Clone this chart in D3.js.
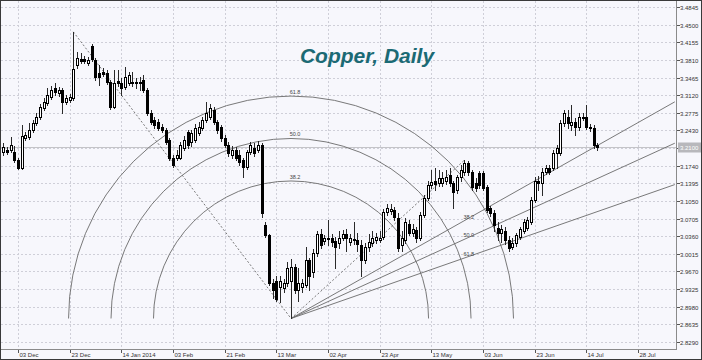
<!DOCTYPE html>
<html>
<head>
<meta charset="utf-8">
<script src="https://d3js.org/d3.v7.min.js"></script>
<style>
  body { margin: 0; background: #fff; }
  svg { display: block; }
  .grid line { stroke: #cfcfd8; stroke-dasharray: 2,2; shape-rendering: crispEdges; }
  .tick-label { font-family: "Liberation Sans Narrow", "Liberation Sans", Arial, sans-serif; font-size: 6px; fill: #333; }
  .fib { fill: none; stroke: #6a6a6a; stroke-width: 0.9; }
  .fib-dash { fill: none; stroke: #6a6a6a; stroke-width: 0.9; stroke-dasharray: 2,2; }
  .fib-label { font-family: "Liberation Sans", Arial, sans-serif; font-size: 5.5px; fill: #444; }
</style>
</head>
<body>
<script>
// copper daily candles, one entry per trading day
const opens = [3.200,3.204,3.204,3.200,3.185,3.169,3.228,3.230,3.243,3.257,3.269,3.287,3.296,3.308,3.326,3.316,3.322,3.298,3.302,3.306,
  3.371,3.383,3.383,3.375,3.408,3.381,3.355,3.357,3.355,3.337,3.288,3.339,3.336,3.328,3.336,3.337,3.336,3.337,3.341,3.322,
  3.277,3.263,3.259,3.249,3.243,3.224,3.189,3.189,3.190,3.208,3.239,3.220,3.224,3.238,3.247,3.263,3.269,3.283,3.259,3.249,
  3.228,3.214,3.194,3.204,3.194,3.185,3.171,3.200,3.208,3.204,3.214,3.057,3.038,2.945,2.949,2.936,2.934,2.944,2.949,2.975,
  2.930,2.936,2.940,2.989,2.965,3.004,3.041,3.026,3.030,3.032,3.026,3.022,3.032,3.041,3.024,3.030,3.028,3.018,2.989,3.014,
  3.022,3.028,3.028,3.034,3.083,3.085,3.087,3.071,3.018,3.028,3.059,3.043,3.049,3.032,3.077,3.110,3.136,3.145,3.141,3.141,
  3.145,3.155,3.140,3.126,3.151,3.161,3.179,3.161,3.141,3.159,3.159,3.132,3.091,3.081,3.053,3.043,3.047,3.028,3.014,3.022,
  3.034,3.047,3.053,3.063,3.106,3.145,3.141,3.161,3.169,3.169,3.198,3.198,3.257,3.269,3.253,3.259,3.249,3.267,3.269,3.249,
  3.247,3.214];
const highs = [3.218,3.210,3.230,3.212,3.189,3.253,3.239,3.257,3.263,3.277,3.294,3.306,3.326,3.330,3.336,3.328,3.326,3.312,3.314,3.436,
  3.396,3.394,3.388,3.386,3.412,3.384,3.371,3.365,3.361,3.341,3.361,3.361,3.345,3.367,3.357,3.357,3.345,3.347,3.351,3.326,
  3.283,3.269,3.265,3.255,3.247,3.228,3.194,3.204,3.220,3.232,3.243,3.243,3.255,3.259,3.269,3.298,3.294,3.288,3.263,3.253,
  3.234,3.220,3.212,3.210,3.204,3.190,3.204,3.220,3.218,3.222,3.218,3.063,3.041,2.953,2.959,2.959,2.953,2.985,2.992,2.981,
  2.973,2.953,3.014,2.994,3.010,3.047,3.051,3.038,3.067,3.040,3.034,3.047,3.049,3.051,3.041,3.063,3.043,3.028,3.022,3.041,
  3.047,3.043,3.047,3.089,3.100,3.100,3.094,3.081,3.047,3.071,3.067,3.059,3.055,3.083,3.116,3.145,3.165,3.169,3.165,3.161,
  3.165,3.169,3.145,3.155,3.175,3.185,3.183,3.165,3.149,3.163,3.163,3.136,3.096,3.087,3.063,3.057,3.055,3.036,3.032,3.043,
  3.055,3.069,3.073,3.112,3.151,3.153,3.169,3.175,3.175,3.204,3.214,3.263,3.283,3.283,3.292,3.267,3.277,3.277,3.292,3.255,
  3.253,3.218];
const lows = [3.194,3.196,3.200,3.181,3.167,3.167,3.224,3.226,3.239,3.253,3.265,3.283,3.292,3.304,3.312,3.310,3.277,3.294,3.298,3.302,
  3.365,3.375,3.375,3.371,3.379,3.341,3.332,3.349,3.334,3.285,3.287,3.330,3.312,3.324,3.332,3.330,3.326,3.322,3.318,3.273,
  3.255,3.247,3.243,3.239,3.216,3.185,3.171,3.185,3.187,3.204,3.208,3.212,3.220,3.234,3.243,3.259,3.265,3.255,3.238,3.222,
  3.210,3.192,3.189,3.185,3.175,3.151,3.167,3.196,3.192,3.200,3.073,3.034,2.940,2.916,2.910,2.908,2.926,2.938,2.875,2.924,
  2.910,2.926,2.936,2.930,2.957,2.998,3.012,3.020,3.018,3.016,2.973,3.012,3.028,3.008,3.018,3.020,3.008,2.959,2.983,3.008,
  3.016,3.022,3.024,3.030,3.077,3.079,3.067,3.008,3.008,3.022,3.038,3.036,3.024,3.028,3.073,3.106,3.130,3.126,3.134,3.134,
  3.138,3.134,3.092,3.120,3.145,3.155,3.155,3.126,3.124,3.130,3.126,3.083,3.075,3.047,3.028,3.024,3.020,3.008,3.010,3.016,
  3.030,3.043,3.049,3.059,3.102,3.126,3.116,3.157,3.157,3.165,3.169,3.194,3.251,3.247,3.243,3.234,3.243,3.263,3.245,3.241,
  3.208,3.204];
const closes = [3.210,3.200,3.214,3.185,3.169,3.232,3.234,3.243,3.257,3.269,3.288,3.298,3.312,3.322,3.318,3.322,3.298,3.306,3.308,3.363,
  3.384,3.379,3.379,3.381,3.383,3.347,3.347,3.353,3.337,3.288,3.336,3.336,3.326,3.347,3.351,3.336,3.337,3.336,3.322,3.277,
  3.259,3.253,3.247,3.243,3.220,3.189,3.175,3.194,3.214,3.224,3.214,3.238,3.247,3.249,3.263,3.277,3.287,3.259,3.243,3.228,
  3.214,3.198,3.204,3.190,3.181,3.171,3.200,3.214,3.198,3.214,3.081,3.038,2.945,2.930,2.914,2.949,2.945,2.973,2.975,2.930,
  2.945,2.944,2.989,2.959,3.004,3.041,3.018,3.032,3.032,3.024,3.014,3.032,3.041,3.032,3.032,3.028,3.020,2.989,3.014,3.024,
  3.032,3.034,3.032,3.083,3.091,3.089,3.073,3.012,3.032,3.063,3.043,3.051,3.032,3.077,3.110,3.136,3.143,3.138,3.149,3.149,
  3.151,3.140,3.122,3.151,3.165,3.179,3.161,3.132,3.130,3.136,3.130,3.087,3.081,3.057,3.043,3.051,3.028,3.012,3.022,3.038,
  3.051,3.063,3.067,3.106,3.145,3.140,3.161,3.169,3.161,3.198,3.208,3.257,3.277,3.257,3.259,3.249,3.269,3.269,3.249,3.247,
  3.214,3.210];

const priceTicks = [2.8290,2.8635,2.8980,2.9325,2.9670,3.0015,3.0360,3.0705,3.1050,3.1395,
  3.1740,3.2085,3.2430,3.2775,3.3120,3.3465,3.3810,3.4155,3.4500,3.4845];
const dateTickBars = [4,18,32,46,60,74,88,102,116,130,144,158,172];
const dateTickLabels = ["03 Dec","23 Dec","14 Jan 2014","03 Feb","21 Feb","13 Mar","02 Apr",
  "23 Apr","13 May","03 Jun","23 Jun","14 Jul","28 Jul"];

// fibonacci tools: arcs from the Dec high to the Mar low, fan from the Mar low to the May high
const fibHigh = {bar: 19, price: 3.436};
const fibLow = {bar: 78, price: 2.875};
const fanEnd = {bar: 125, price: 3.185};
const fibLevels = [38.2, 50.0, 61.8];

const W = 702, H = 360;
const pLeft = 1, pRight = 676, pTop = 1, pBottom = 349;

const svg = d3.select("body").append("svg")
  .attr("width", W).attr("height", H);

svg.append("rect").attr("x", 0.5).attr("y", 0.5).attr("width", W - 1).attr("height", H - 1)
  .attr("fill", "#f7f7fc").attr("stroke", "#3a3a3a");

const x = d3.scaleLinear().domain([0, 182]).range([3.2, 674.8]);
const y = d3.scaleLinear().domain([2.8290, 3.4845]).range([342, 7]);

const px = v => Math.round(v) + 0.5;

// grid
const grid = svg.append("g").attr("class", "grid");
grid.selectAll(".h").data(priceTicks).join("line")
  .attr("x1", pLeft).attr("x2", pRight)
  .attr("y1", d => px(y(d))).attr("y2", d => px(y(d)));
grid.selectAll(".v").data(dateTickBars).join("line")
  .attr("x1", d => px(x(d))).attr("x2", d => px(x(d)))
  .attr("y1", pTop).attr("y2", pBottom);

// clip for drawing objects
svg.append("clipPath").attr("id", "plot")
  .append("rect").attr("x", pLeft).attr("y", pTop).attr("width", pRight - pLeft).attr("height", pBottom - pTop);

const last = closes[closes.length - 1];

// bid line
svg.append("line")
  .attr("x1", pLeft).attr("x2", pRight)
  .attr("y1", px(y(last))).attr("y2", px(y(last)))
  .attr("stroke", "#c4c4c8").attr("shape-rendering", "crispEdges");

const fib = svg.append("g").attr("clip-path", "url(#plot)");

const ax = x(fibLow.bar), ay = y(fibLow.price);
const dist = Math.hypot(x(fibHigh.bar) - ax, y(fibHigh.price) - ay);

fibLevels.forEach(l => {
  const r = dist * l / 100;
  fib.append("path").attr("class", "fib")
    .attr("d", `M${ax - r},${ay} A${r},${r} 0 0 1 ${ax + r},${ay}`);
  fib.append("text").attr("class", "fib-label")
    .attr("x", ax + 4).attr("y", ay - r - 2)
    .attr("text-anchor", "middle")
    .text(l.toFixed(1));
});

// dashed trend lines
fib.append("line").attr("class", "fib-dash")
  .attr("x1", x(fibHigh.bar)).attr("y1", y(fibHigh.price))
  .attr("x2", ax).attr("y2", ay);
fib.append("line").attr("class", "fib-dash")
  .attr("x1", ax).attr("y1", ay)
  .attr("x2", x(fanEnd.bar)).attr("y2", y(fanEnd.price));

// fan lines
fibLevels.forEach(l => {
  const p = fanEnd.price - (fanEnd.price - fibLow.price) * l / 100;
  const slope = (p - fibLow.price) / (fanEnd.bar - fibLow.bar);
  const endBar = 182;
  fib.append("line").attr("class", "fib")
    .attr("x1", ax).attr("y1", ay)
    .attr("x2", x(endBar)).attr("y2", y(fibLow.price + slope * (endBar - fibLow.bar)));
  fib.append("text").attr("class", "fib-label")
    .attr("x", x(fanEnd.bar) - 1).attr("y", y(p) - 2)
    .text(l.toFixed(1));
});

// candles
const candles = svg.append("g");
closes.forEach((c, i) => {
  const o = opens[i];
  const cx = px(x(i));
  const up = c >= o;
  candles.append("line")
    .attr("x1", cx).attr("x2", cx)
    .attr("y1", Math.round(y(highs[i]))).attr("y2", Math.round(y(lows[i])) + 1)
    .attr("stroke", "#2a2a2a");
  const yt = Math.round(y(Math.max(o, c))) + 0.5;
  const yb = Math.round(y(Math.min(o, c))) + 0.5;
  candles.append("rect")
    .attr("x", cx - 1).attr("y", yt)
    .attr("width", 2).attr("height", Math.max(yb - yt, 0.01))
    .attr("fill", up ? "#ffffff" : "#000000")
    .attr("stroke", "#000");
});

// axes frame
svg.append("line").attr("x1", px(pRight)).attr("x2", px(pRight)).attr("y1", pTop).attr("y2", pBottom + 1)
  .attr("stroke", "#8a8a8a");
svg.append("line").attr("x1", pLeft).attr("x2", pRight + 1).attr("y1", px(pBottom)).attr("y2", px(pBottom))
  .attr("stroke", "#8a8a8a");

// price axis
const ya = svg.append("g");
priceTicks.forEach(t => {
  const yy = px(y(t));
  ya.append("line").attr("x1", pRight + 1).attr("x2", pRight + 4).attr("y1", yy).attr("y2", yy).attr("stroke", "#555");
  ya.append("text").attr("class", "tick-label")
    .attr("x", pRight + 4).attr("y", yy + 2).text(t.toFixed(4));
});

// current price marker
const ly = px(y(last));
svg.append("rect").attr("x", pRight + 2).attr("y", ly - 5).attr("width", 23).attr("height", 10)
  .attr("fill", "#b8b8bc");
svg.append("text").attr("class", "tick-label").style("fill", "#fff")
  .attr("x", pRight + 4).attr("y", ly + 2).text(last.toFixed(4));

// date axis
const xa = svg.append("g");
dateTickBars.forEach((b, i) => {
  const xx = px(x(b));
  xa.append("line").attr("x1", xx).attr("x2", xx).attr("y1", pBottom + 1).attr("y2", pBottom + 4).attr("stroke", "#555");
  xa.append("text").attr("class", "tick-label")
    .attr("x", xx + 1).attr("y", pBottom + 8).text(dateTickLabels[i]);
});

// title
svg.append("text")
  .attr("x", 367).attr("y", 63)
  .attr("text-anchor", "middle")
  .style("font-family", "'Liberation Sans', Arial, sans-serif")
  .style("font-size", "21px").style("font-weight", "bold").style("font-style", "italic")
  .style("fill", "#1b6a74")
  .text("Copper, Daily");
</script>
</body>
</html>
